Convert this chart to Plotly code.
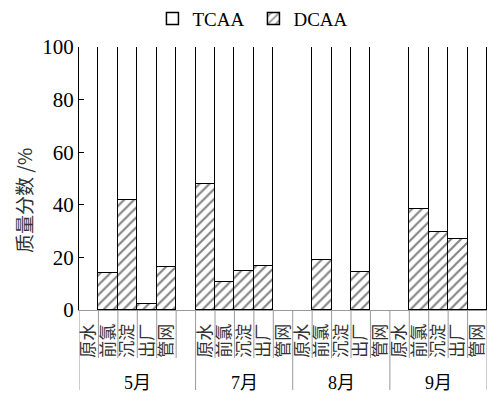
import plotly.graph_objects as go

# ---- data ----
months = ["5月", "7月", "8月", "9月"]
sites = ["原水", "前氯", "沉淀", "出厂", "管网"]
# slots per month group (5月 has an extra blank slot at the end)
slots_per_month = [6, 5, 5, 5]

dcaa_may = [None, 14, 42, 2.3, 16.2]
dcaa_jul = [47.8, 10.5, 14.7, 16.8, None]
dcaa_aug = [None, 19.0, None, 14.3, None]
dcaa_sep = [None, 38.3, 29.8, 26.9, 0]

tcaa_may = [None, 86, 58, 97.7, 83.8]
tcaa_jul = [52.2, 89.5, 85.3, 83.2, None]
tcaa_aug = [None, 81.0, None, 85.7, None]
tcaa_sep = [None, 61.7, 70.2, 73.1, 100]

dcaa_groups = [dcaa_may, dcaa_jul, dcaa_aug, dcaa_sep]
tcaa_groups = [tcaa_may, tcaa_jul, tcaa_aug, tcaa_sep]

# ---- build positions ----
xs, dcaa, tcaa, tickvals, ticktext = [], [], [], [], []
group_bounds = [0]
start = 0
for g, n in enumerate(slots_per_month):
    for k in range(5):
        pos = start + k + 0.5
        xs.append(pos)
        dcaa.append(dcaa_groups[g][k])
        tcaa.append(tcaa_groups[g][k])
        tickvals.append(pos)
        ticktext.append(sites[k])
    start += n
    group_bounds.append(start)
total = start

serif = "Liberation Serif, Times New Roman, serif"
cjk = "Noto Sans CJK SC"

fig = go.Figure()
fig.add_trace(go.Bar(
    x=xs, y=dcaa, name="DCAA", width=1.0,
    marker=dict(color="white", line=dict(color="black", width=1.5),
                pattern=dict(shape="/", fgcolor="black", bgcolor="white", size=7, solidity=0.28)),
    showlegend=True, legendrank=2,
))
fig.add_trace(go.Bar(
    x=xs, y=tcaa, name="TCAA", width=1.0,
    marker=dict(color="white", line=dict(color="black", width=1.5)),
    showlegend=True, legendrank=1,
))

plot_h = 263.0
def py(px):
    return (310 - px) / plot_h

shapes = []
line_col = "#9a9a9a"
# short separators between categories
for g, n in enumerate(slots_per_month):
    b0 = group_bounds[g]
    for k in range(1, n):
        shapes.append(dict(type="line", xref="x", yref="paper", x0=b0 + k, x1=b0 + k,
                           y0=0, y1=py(358), line=dict(color=line_col, width=1)))
# long separators between groups
for b in group_bounds:
    shapes.append(dict(type="line", xref="x", yref="paper", x0=b, x1=b,
                       y0=0, y1=py(390), line=dict(color=line_col, width=1)))

annotations = []
for g, m in enumerate(months):
    c = (group_bounds[g] + group_bounds[g + 1]) / 2
    annotations.append(dict(x=c, y=py(383), xref="x", yref="paper", text=m, showarrow=False,
                            xanchor="center", yanchor="middle",
                            font=dict(family=serif + ", " + cjk, size=18, color="black")))
annotations.append(dict(x=(23 - 79) / 408, y=py(200), xref="paper", yref="paper",
                        text="质量分数 /%", textangle=-90, showarrow=False,
                        xanchor="center", yanchor="middle",
                        font=dict(family=cjk, size=19, color="#333")))

fig.update_layout(
    width=489, height=386,
    margin=dict(l=71, r=10, t=39, b=84, autoexpand=False),
    barmode="stack", bargap=0,
    plot_bgcolor="white", paper_bgcolor="white",
    showlegend=True,
    legend=dict(orientation="h", x=0.18, xanchor="left", y=1.18, yanchor="top",
                font=dict(family=serif, size=19, color="black"),
                traceorder="normal", entrywidth=56, entrywidthmode="pixels"),
    xaxis=dict(range=[0, total], tickvals=tickvals, ticktext=ticktext, tickangle=-90,
               showline=True, linecolor=line_col, linewidth=1, ticks="", showgrid=False,
               zeroline=False, ticklabelstandoff=6,
               tickfont=dict(family=cjk, size=17, color="#333")),
    yaxis=dict(range=[0, 100], dtick=20, ticks="inside", ticklen=5, tickcolor="black",
               showline=True, linecolor="black", linewidth=1, showgrid=False, zeroline=False,
               tickfont=dict(family=serif, size=21, color="black")),
    shapes=shapes, annotations=annotations,
)

fig.write_html("out.html")
